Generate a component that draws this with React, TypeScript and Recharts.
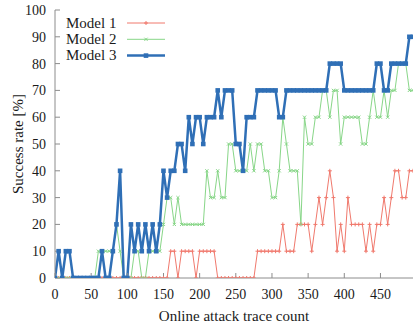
import { Legend, Line, LineChart, XAxis, YAxis } from "recharts"

const traceCounts = [
  0, 5, 10, 15, 20, 25, 30, 35, 40, 45,
  50, 55, 60, 65, 70, 75, 80, 85, 90, 95,
  100, 105, 110, 115, 120, 125, 130, 135, 140, 145,
  150, 155, 160, 165, 170, 175, 180, 185, 190, 195,
  200, 205, 210, 215, 220, 225, 230, 235, 240, 245,
  250, 255, 260, 265, 270, 275, 280, 285, 290, 295,
  300, 305, 310, 315, 320, 325, 330, 335, 340, 345,
  350, 355, 360, 365, 370, 375, 380, 385, 390, 395,
  400, 405, 410, 415, 420, 425, 430, 435, 440, 445,
  450, 455, 460, 465, 470, 475, 480, 485, 490, 495,
]

const model1 = [
  0, 0, 0, 0, 0, 0, 0, 0, 0, 0,
  0, 0, 0, 0, 0, 0, 0, 0, 0, 0,
  0, 0, 0, 0, 0, 0, 0, 0, 0, 0,
  0, 0, 10, 10, 0, 10, 10, 10, 10, 0,
  10, 10, 10, 10, 10, 0, 0, 0, 0, 0,
  0, 0, 0, 0, 0, 0, 10, 10, 10, 10,
  10, 10, 10, 20, 10, 10, 10, 20, 20, 20,
  20, 10, 20, 30, 20, 30, 40, 30, 10, 20,
  10, 30, 20, 20, 20, 20, 10, 20, 10, 20,
  20, 30, 20, 30, 40, 40, 30, 30, 40, 40,
]

const model2 = [
  0, 0, 0, 0, 0, 0, 0, 0, 0, 0,
  0, 0, 10, 10, 10, 10, 10, 20, 10, 0,
  0, 0, 10, 10, 0, 0, 10, 10, 10, 10,
  20, 30, 30, 20, 30, 20, 20, 20, 20, 20,
  20, 20, 40, 30, 30, 40, 30, 30, 50, 50,
  40, 40, 40, 40, 50, 40, 50, 50, 40, 40,
  30, 30, 40, 60, 50, 40, 40, 40, 20, 60,
  50, 50, 60, 60, 70, 70, 60, 70, 70, 50,
  60, 60, 60, 60, 60, 50, 50, 60, 70, 60,
  60, 70, 60, 70, 70, 80, 80, 80, 70, 70,
]

const model3 = [
  0, 10, 0, 10, 10, 0, 0, 0, 0, 0,
  0, 0, 0, 10, 0, 0, 10, 20, 40, 0,
  0, 20, 10, 20, 10, 20, 10, 20, 10, 20,
  40, 30, 40, 40, 50, 50, 40, 60, 50, 60,
  60, 50, 60, 60, 60, 70, 60, 70, 70, 70,
  50, 50, 40, 60, 60, 60, 70, 70, 70, 70,
  70, 70, 60, 60, 70, 70, 70, 70, 70, 70,
  70, 70, 70, 70, 70, 70, 80, 80, 80, 80,
  70, 70, 70, 70, 70, 70, 70, 70, 70, 80,
  80, 70, 70, 80, 80, 80, 80, 80, 90, 90,
]

const xTicks = [0, 50, 100, 150, 200, 250, 300, 350, 400, 450]
const yTicks = [0, 10, 20, 30, 40, 50, 60, 70, 80, 90, 100]

const data = traceCounts.map((x, i) => ({
  x,
  m1: model1[i],
  m2: model2[i],
  m3: model3[i],
}))

const FONT = "Liberation Serif, Times New Roman, Tinos, DejaVu Serif, Noto Serif, serif"
const FRAME = "#8c8c8c"
const RED = "#f0796d"
const GREEN = "#88d688"
const BLUE = "#2f6fb6"

// gnuplot style point markers
function marker(kind: string, cx: number, cy: number, color: string, key?: string) {
  if (kind === "m1") {
    return (
      <path key={key} d={`M${cx - 2},${cy}h4M${cx},${cy - 2}v4`} stroke={color} strokeWidth={1} fill="none" />
    )
  }
  if (kind === "m2") {
    return (
      <path
        key={key}
        d={`M${cx - 1.6},${cy - 1.6}l3.2,3.2M${cx - 1.6},${cy + 1.6}l3.2,-3.2`}
        stroke={color}
        strokeWidth={1}
        fill="none"
      />
    )
  }
  return <rect key={key} x={cx - 2.3} y={cy - 2.3} width={4.6} height={4.6} fill={color} />
}

const makeDot = (kind: string, color: string) => (props: any) => {
  const { cx, cy, index } = props
  if (cx == null || cy == null) return <g key={`${kind}-${index}`} />
  return marker(kind, cx, cy, color, `${kind}-${index}`)
}

function KeyBox({ payload }: any) {
  return (
    <svg width={170} height={66} style={{ display: "block" }}>
      {(payload || []).map((entry: any, i: number) => {
        const y = 23 + i * 16.3
        const wide = entry.dataKey === "m3"
        return (
          <g key={entry.dataKey}>
            <text x={66} y={y + 4.5} style={{ fontFamily: FONT }} fontSize={15} fill="#1a1a1a">
              {entry.value}
            </text>
            <line x1={127} x2={165} y1={y} y2={y} stroke={entry.color} strokeWidth={wide ? 2.5 : 1} />
            {marker(entry.dataKey, 146, y, entry.color)}
          </g>
        )
      })}
    </svg>
  )
}

export default function App() {
  const tickStyle = { fontSize: 14, fill: "#1a1a1a", fontFamily: FONT }
  return (
    <div
      style={{
        position: "absolute",
        left: 0,
        top: 0,
        width: 418,
        height: 325,
        background: "#fff",
        fontFamily: FONT,
      }}
    >
      <LineChart
        width={418}
        height={325}
        data={data}
        margin={{ top: 10, right: 5, left: 0, bottom: 0 }}
        style={{ fontFamily: FONT }}
      >
        <XAxis
          dataKey="x"
          type="number"
          domain={[0, 495]}
          ticks={xTicks}
          interval={0}
          allowDataOverflow
          height={47}
          tickSize={-5}
          tickMargin={16}
          tick={tickStyle}
          axisLine={{ stroke: FRAME }}
          tickLine={{ stroke: FRAME }}
          label={({ viewBox }: any) => (
            <text
              x={viewBox.x + viewBox.width / 2}
              y={viewBox.y + 43}
              textAnchor="middle"
              style={{ fontFamily: FONT }}
              fontSize={15}
              fill="#1a1a1a"
            >
              Online attack trace count
            </text>
          )}
        />
        <XAxis
          xAxisId="top"
          orientation="top"
          dataKey="x"
          type="number"
          domain={[0, 495]}
          ticks={xTicks}
          interval={0}
          allowDataOverflow
          height={0}
          tickSize={-5}
          tickFormatter={() => ""}
          axisLine={{ stroke: FRAME }}
          tickLine={{ stroke: FRAME }}
        />
        <YAxis
          type="number"
          domain={[0, 100]}
          ticks={yTicks}
          interval={0}
          allowDataOverflow
          width={55}
          tickSize={-5}
          tickMargin={14}
          tick={tickStyle}
          axisLine={{ stroke: FRAME }}
          tickLine={{ stroke: FRAME }}
          label={({ viewBox }: any) => (
            <text
              x={18}
              y={viewBox.y + viewBox.height / 2}
              transform={`rotate(-90, 18, ${viewBox.y + viewBox.height / 2})`}
              textAnchor="middle"
              dominantBaseline="central"
              style={{ fontFamily: FONT }}
              fontSize={15}
              fill="#1a1a1a"
            >
              Success rate [%]
            </text>
          )}
        />
        <YAxis
          yAxisId="right"
          orientation="right"
          type="number"
          domain={[0, 100]}
          ticks={yTicks}
          interval={0}
          allowDataOverflow
          width={0}
          tickSize={-5}
          tickFormatter={() => ""}
          axisLine={{ stroke: FRAME }}
          tickLine={{ stroke: FRAME }}
        />
        <Legend
          layout="vertical"
          align="center"
          verticalAlign="middle"
          wrapperStyle={{ top: 0, left: 0, width: 170, height: 66 }}
          content={KeyBox}
        />
        <Line
          name="Model 1"
          dataKey="m1"
          stroke={RED}
          strokeWidth={1}
          dot={makeDot("m1", RED)}
          activeDot={false}
          isAnimationActive={false}
        />
        <Line
          name="Model 2"
          dataKey="m2"
          stroke={GREEN}
          strokeWidth={1}
          dot={makeDot("m2", GREEN)}
          activeDot={false}
          isAnimationActive={false}
        />
        {/* drawn against the mirrored top/right axes, which share the same domains */}
        <Line
          name="Model 3"
          dataKey="m3"
          xAxisId="top"
          yAxisId="right"
          stroke={BLUE}
          strokeWidth={2.5}
          dot={makeDot("m3", BLUE)}
          activeDot={false}
          isAnimationActive={false}
        />
      </LineChart>
    </div>
  )
}
